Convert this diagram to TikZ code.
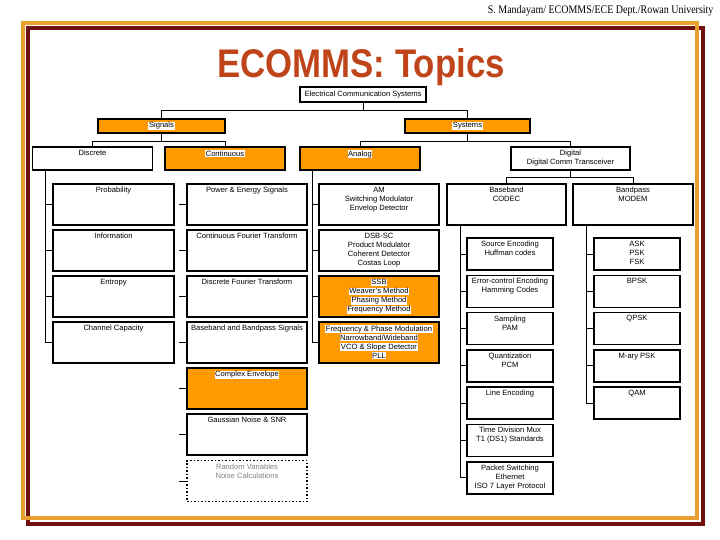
\documentclass[tikz,border=0pt]{standalone}
\usepackage{fontspec}
\setmainfont{Liberation Sans}
\newfontfamily\creditfont{Liberation Serif}
\usetikzlibrary{positioning}

% white highlight behind text on orange boxes
\newcommand{\hl}[1]{{\setlength{\fboxsep}{0.6pt}\colorbox{white}{#1}}}

\begin{document}
\begin{tikzpicture}[x=1pt, y=-1pt,
    headbox/.style={draw=black, line width=1.1pt, inner sep=0pt, minimum height=14pt,
        font=\fontsize{7.6}{9}\selectfont},
    midbox/.style={draw=black, line width=1.5pt, inner sep=0pt, minimum width=120pt, minimum height=23pt},
    bigbox/.style={draw=black, line width=1.5pt, inner sep=0pt, minimum width=120pt, minimum height=41pt},
    smallbox/.style={draw=black, line width=1.5pt, inner sep=0pt, minimum width=86pt, minimum height=32pt},
    boxtext/.style={anchor=north, align=center, inner sep=3.5pt, font=\fontsize{7.6}{9}\selectfont},
    link/.style={line width=0.9pt}]

    \definecolor{topicOrange}{HTML}{FF9A00}
    \definecolor{frameOrange}{HTML}{E8A032}
    \definecolor{frameMaroon}{HTML}{6E1010}
    \definecolor{titleRust}{HTML}{C0441A}

    \useasboundingbox (0,0) rectangle (720,540);

    % Draw frame
    \draw[frameMaroon, line width=4pt] (27.5,28.5) rectangle (702.5,524);
    \draw[frameOrange, line width=4pt] (23,23) rectangle (696.5,517.5);

    % Credit line and title
    \node[anchor=base east, font=\creditfont\fontsize{11.6}{11.6}\selectfont] (credit) at (717,14)
        {\scalebox{0.86}[1]{S. Mandayam/ ECOMMS/ECE Dept./Rowan University}};
    \node[anchor=base, text=titleRust, font=\fontsize{40}{40}\bfseries\selectfont] (title) at (361,78)
        {\scalebox{0.87}[1]{ECOMMS: Topics}};

    % Top of the tree
    \node[headbox, minimum width=126pt, minimum height=15pt] (ecs) at (363,94.5) {Electrical Communication Systems};
    \node[headbox, fill=topicOrange, minimum width=127pt] (signals) at (161.5,126) {\hl{Signals}};
    \node[headbox, fill=topicOrange, minimum width=125pt] (systems) at (467.5,126) {\hl{Systems}};

    \node[midbox, label={[boxtext]north:Discrete}] (discrete) at (92.5,158.5) {};
    \node[midbox, fill=topicOrange, label={[boxtext]north:\hl{Continuous}}] (continuous) at (225,158.5) {};
    \node[midbox, fill=topicOrange, label={[boxtext]north:\hl{Analog}}] (analog) at (360,158.5) {};
    \node[midbox, minimum width=119pt, label={[boxtext]north:{Digital\\Digital Comm Transceiver}}] (digital) at (570.5,158.5) {};

    \draw[link] (ecs.south) -- ++(0,8) -| (signals.north);
    \draw[link] (ecs.south) -- ++(0,8) -| (systems.north);
    \draw[link] (signals.south) -- ++(0,8) -| (discrete.north);
    \draw[link] (signals.south) -- ++(0,8) -| (continuous.north);
    \draw[link] (systems.south) -- ++(0,8) -| (analog.north);
    \draw[link] (systems.south) -- ++(0,8) -| (digital.north);

    % Discrete column
    \node[bigbox, minimum width=121pt, label={[boxtext]north:Probability}] (prob) at (113.5,204.5) {};
    \node[bigbox, minimum width=121pt, label={[boxtext]north:Information}] (info) at (113.5,250.5) {};
    \node[bigbox, minimum width=121pt, label={[boxtext]north:Entropy}] (entropy) at (113.5,296.5) {};
    \node[bigbox, minimum width=121pt, label={[boxtext]north:Channel Capacity}] (chcap) at (113.5,342.5) {};

    \foreach \n in {prob,info,entropy,chcap}
        \draw[link] ([xshift=14pt]discrete.south west) |- (\n.west);

    % Continuous column
    \node[bigbox, label={[boxtext]north:Power \& Energy Signals}] (power) at (247,204.5) {};
    \node[bigbox, label={[boxtext]north:Continuous Fourier Transform}] (cft) at (247,250.5) {};
    \node[bigbox, label={[boxtext]north:Discrete Fourier Transform}] (dft) at (247,296.5) {};
    \node[bigbox, label={[boxtext]north:Baseband and Bandpass Signals}] (bbsig) at (247,342.5) {};
    \node[bigbox, fill=topicOrange, line width=2pt, label={[boxtext]north:\hl{Complex Envelope}}] (cenv) at (247,388.5) {};
    \node[bigbox, label={[boxtext]north:Gaussian Noise \& SNR}] (noise) at (247,434.5) {};
    \node[bigbox, dotted, line width=1.1pt,
        label={[boxtext, text=gray]north:{Random Variables\\Noise Calculations}}] (randvar) at (247,481) {};

    \foreach \n in {power,cft,dft,bbsig,cenv,noise,randvar}
        \draw[link] (\n.west) -- ++(-7,0);

    % Analog column
    \node[bigbox, label={[boxtext]north:{AM\\Switching Modulator\\Envelop Detector}}] (am) at (379,204.5) {};
    \node[bigbox, label={[boxtext]north:{DSB-SC\\Product Modulator\\Coherent Detector\\Costas Loop}}] (dsb) at (379,250.5) {};
    \node[bigbox, fill=topicOrange,
        label={[boxtext]north:{\hl{SSB}\\\hl{Weaver's Method}\\\hl{Phasing Method}\\\hl{Frequency Method}}}] (ssb) at (379,296.5) {};
    \node[bigbox, fill=topicOrange,
        label={[boxtext]north:{\hl{Frequency \& Phase Modulation}\\\hl{Narrowband/Wideband}\\\hl{VCO \& Slope Detector}\\\hl{PLL}}}] (fm) at (379,342.5) {};

    \foreach \n in {am,dsb,ssb,fm}
        \draw[link] ([xshift=13pt]analog.south west) |- (\n.west);

    % Digital branches
    \node[bigbox, minimum width=119pt, label={[boxtext]north:{Baseband\\CODEC}}] (baseband) at (506.5,204.5) {};
    \node[bigbox, label={[boxtext]north:{Bandpass\\MODEM}}] (bandpass) at (633,204.5) {};

    \draw[link] (digital.south) -- ++(0,7) -| (baseband.north);
    \draw[link] (digital.south) -- ++(0,7) -| (bandpass.north);

    % Baseband column
    \node[smallbox, label={[boxtext]north:{Source Encoding\\Huffman codes}}] (source) at (510,254) {};
    \node[smallbox, label={[boxtext]north:{Error-control Encoding\\Hamming Codes}}] (errctl) at (510,291.3) {};
    \node[smallbox, label={[boxtext]north:{Sampling\\PAM}}] (sampling) at (510,328.6) {};
    \node[smallbox, label={[boxtext]north:{Quantization\\PCM}}] (quant) at (510,365.9) {};
    \node[smallbox, label={[boxtext]north:Line Encoding}] (lineenc) at (510,403.2) {};
    \node[smallbox, label={[boxtext]north:{Time Division Mux\\T1 (DS1) Standards}}] (tdm) at (510,440.5) {};
    \node[smallbox, label={[boxtext]north:{Packet Switching\\Ethernet\\ISO 7 Layer Protocol}}] (packet) at (510,477.8) {};

    \foreach \n in {source,errctl,sampling,quant,lineenc,tdm,packet}
        \draw[link] ([xshift=14pt]baseband.south west) |- (\n.west);

    % Bandpass column
    \node[smallbox, label={[boxtext]north:{ASK\\PSK\\FSK}}] (ask) at (637,254) {};
    \node[smallbox, label={[boxtext]north:BPSK}] (bpsk) at (637,291.3) {};
    \node[smallbox, label={[boxtext]north:QPSK}] (qpsk) at (637,328.6) {};
    \node[smallbox, label={[boxtext]north:M-ary PSK}] (mpsk) at (637,365.9) {};
    \node[smallbox, label={[boxtext]north:QAM}] (qam) at (637,403.2) {};

    \foreach \n in {ask,bpsk,qpsk,mpsk,qam}
        \draw[link] ([xshift=14pt]bandpass.south west) |- (\n.west);

\end{tikzpicture}
\end{document}
